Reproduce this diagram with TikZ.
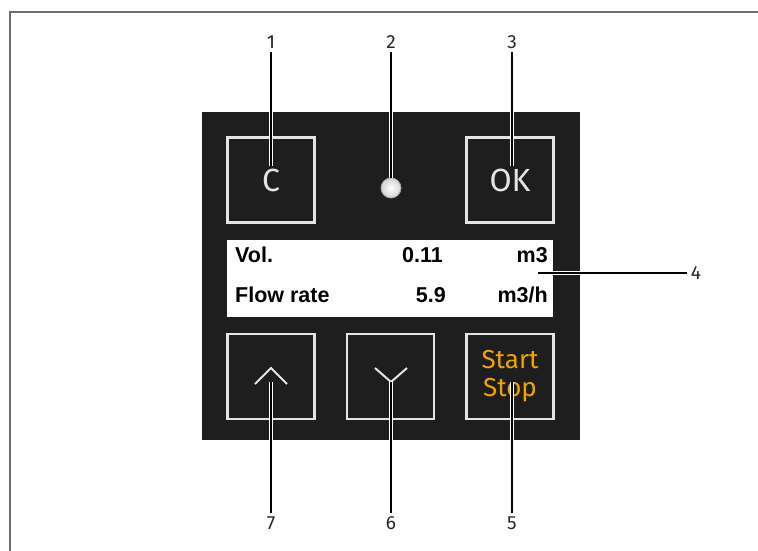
\documentclass[tikz,border=0pt]{standalone}
\usepackage{fontspec}
\setmainfont{Fira Sans}
\newfontfamily\lcdfont{Liberation Sans}
\definecolor{panelgray}{RGB}{30,30,30}
\definecolor{keygray}{RGB}{228,228,228}
\definecolor{keyorange}{RGB}{242,163,0}
\definecolor{framegray}{RGB}{110,110,110}
\begin{document}
\begin{tikzpicture}[x=1pt,y=-1pt,
    num node/.style={font=\fontsize{19}{19}\selectfont,text=black!85,inner sep=3.5pt},
    key node/.style={draw=keygray,line width=2.5pt,fill=panelgray,minimum width=87pt,minimum height=85pt,
        text=keygray,font=\fontsize{32}{32}\selectfont},
    lcd text/.style={font=\lcdfont\bfseries\fontsize{21.5}{21.5}\selectfont,inner sep=0pt},
    lead/.style={draw=white,double=black,line width=1.3pt,double distance=1.6pt},
    glyph/.style={draw=keygray,line width=2pt}]
        \useasboundingbox (0,0) rectangle (758,551);
        \fill[white] (0,0) rectangle (758,551);
        \draw[framegray,line width=1.5pt] (10,551) -- (10,12) -- (758,12);

        % housing and display
        \node[fill=panelgray,minimum width=378pt,minimum height=328pt,inner sep=0pt] at (391,276) (panel) {};
        \node[fill=white,minimum width=326pt,minimum height=77pt,inner sep=0pt] at (390,278.5) (lcd) {};
        \node[lcd text,anchor=base west] at (235,262) (vol) {Vol.};
        \node[lcd text,anchor=base east] at (443,262) (volval) {0.11};
        \node[lcd text,anchor=base east] at (548,262) (volunit) {m3};
        \node[lcd text,anchor=base west] at (235,302) (flow) {Flow rate};
        \node[lcd text,anchor=base east] at (446,302) (flowval) {5.9};
        \node[lcd text,anchor=base east] at (548,302) (flowunit) {m3/h};

        % keys
        \node[key node] at (271,180) (c) {C};
        \node[key node] at (510,180) (ok) {OK};
        \node[key node] at (271,376.5) (up) {};
        \node[key node] at (390.5,376.5) (down) {};
        \node[key node,text=keyorange,align=center,font=\fontsize{26}{28}\selectfont] at (510,376.5) (start) {Start\\Stop};
        \node[circle,minimum size=20pt,inner sep=0pt,draw=gray!70,line width=0.8pt,inner color=white,outer color=gray!35] at (391,188) (led) {};
        \draw[glyph] (255,384) -- (271,368) -- (287,384);
        \draw[glyph] (375,368) -- (391,382) -- (407,368);

        % callouts
        \node[num node] at (271,42) (n1) {1};
        \node[num node] at (391,42) (n2) {2};
        \node[num node] at (512,42) (n3) {3};
        \node[num node] at (696,273) (n4) {4};
        \node[num node] at (512,523) (n5) {5};
        \node[num node] at (391,523) (n6) {6};
        \node[num node] at (271,523) (n7) {7};
        \coordinate (t1) at (271,166);
        \coordinate (t3) at (512,166);
        \coordinate (t4) at (538,273);
        \coordinate (t5) at (512,382);
        \coordinate (t6) at (391,382);
        \coordinate (t7) at (271,382);

        \path
            (n1) edge[lead] (t1)
            (n2) edge[lead] (led)
            (n3) edge[lead] (t3)
            (n4) edge[lead] (t4)
            (n5) edge[lead] (t5)
            (n6) edge[lead] (t6)
            (n7) edge[lead] (t7)
            ;
    \end{tikzpicture}
\end{document}
